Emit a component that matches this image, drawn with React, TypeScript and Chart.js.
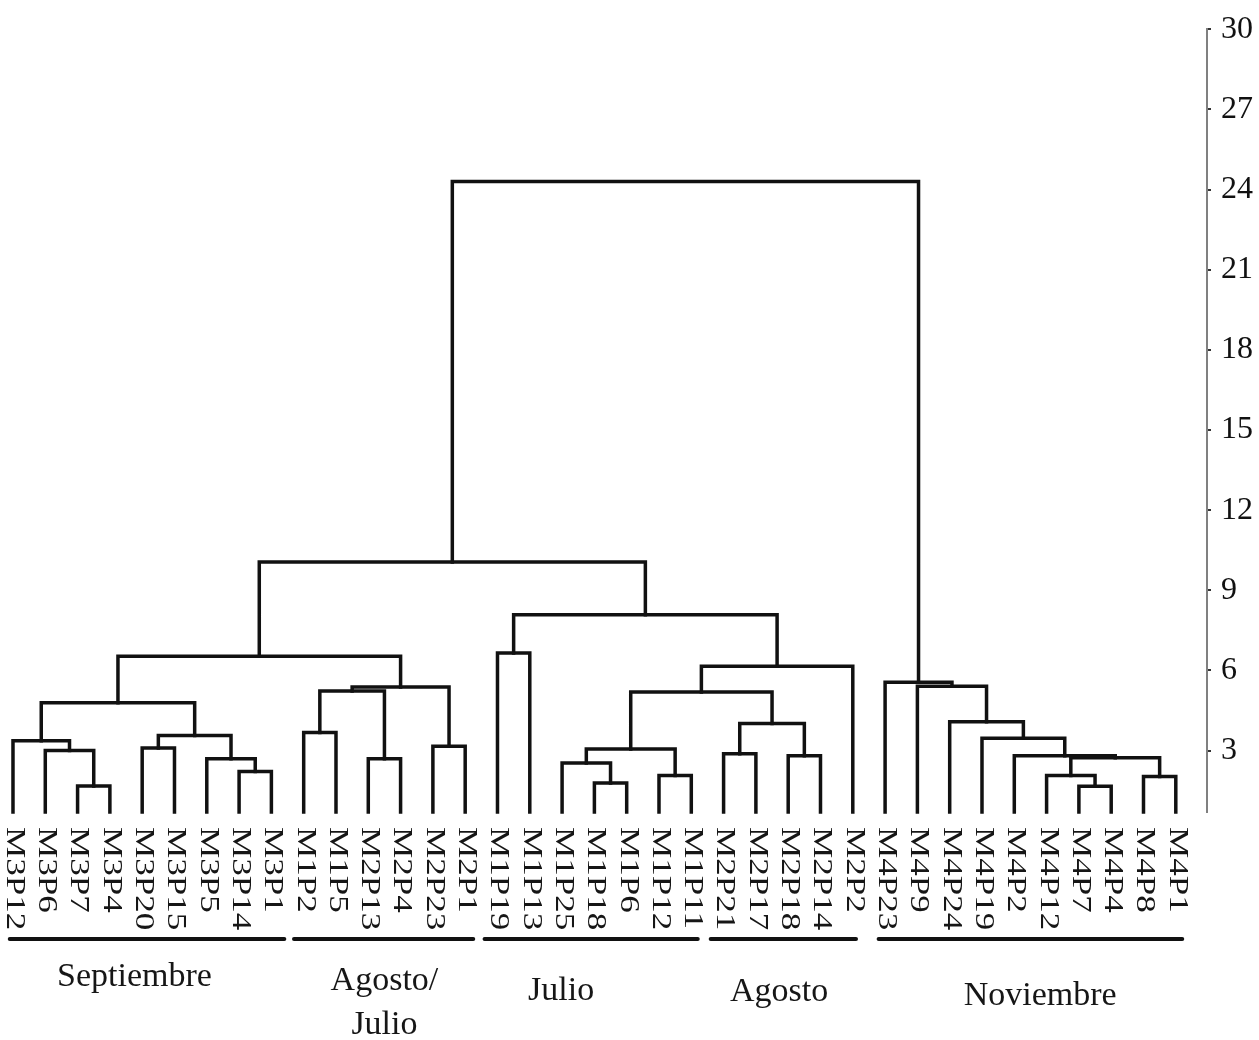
import React, { useEffect, useRef } from "react";
import { Chart, registerables } from "chart.js";

Chart.register(...registerables);

// ---- DATA ----
const leafLabels = [
  "M3P12", "M3P6", "M3P7", "M3P4", "M3P20", "M3P15", "M3P5", "M3P14", "M3P1",
  "M1P2", "M1P5", "M2P13", "M2P4", "M2P23", "M2P1",
  "M1P19", "M1P13", "M1P25", "M1P18", "M1P6", "M1P12", "M1P11",
  "M2P21", "M2P17", "M2P18", "M2P14", "M2P2",
  "M4P23", "M4P9", "M4P24", "M4P19", "M4P2", "M4P12", "M4P7", "M4P4", "M4P8", "M4P1",
];

// Linkage: node id = leafLabels.length + index of merge
const mergeLeft = [2, 1, 0, 4, 7, 6, 40, 39, 9, 11, 45, 13, 47, 44, 15, 18, 17, 20, 53, 22, 24, 56, 55, 59, 51, 50, 33, 32, 35, 64, 31, 30, 29, 28, 27, 62];
const mergeRight = [3, 37, 38, 5, 8, 41, 42, 43, 10, 12, 46, 14, 48, 49, 16, 19, 52, 21, 54, 23, 25, 57, 58, 26, 60, 61, 34, 63, 36, 65, 66, 67, 68, 69, 70, 71];
const mergeHeight = [1.67, 3.0, 3.37, 3.1, 2.22, 2.69, 3.56, 4.79, 3.68, 2.69, 5.23, 3.16, 5.38, 6.53, 6.65, 1.79, 2.53, 2.07, 3.06, 2.88, 2.81, 4.01, 5.19, 6.16, 8.08, 10.06, 1.66, 2.07, 2.03, 2.73, 2.81, 3.46, 4.08, 5.41, 5.56, 24.3];
const leafBase = 0.7;

const yTicks = [3, 6, 9, 12, 15, 18, 21, 24, 27, 30];

const groupNames = [["Septiembre"], ["Agosto/", "Julio"], ["Julio"], ["Agosto"], ["Noviembre"]];
const groupFirstLeaf = [0, 9, 15, 22, 27];
const groupLastLeaf = [8, 14, 21, 26, 36];

// ---- LAYOUT (positions in leaf units / pixel offsets) ----
const groupLineSpan = [[-0.1, 8.4], [8.7, 14.25], [14.6, 21.2], [21.6, 26.1], [26.8, 36.2]];
const groupLabelCenter = [3.76, 11.5, 16.97, 23.72, 31.8];
const groupLabelBaseline = [174, 178, 188, 189, 193];

function buildSegments() {
  const n = leafLabels.length;
  const xs: number[] = leafLabels.map((_, i) => i);
  const hs: number[] = leafLabels.map(() => leafBase);
  const segs: { x: number; y: number }[][] = [];
  for (let k = 0; k < mergeHeight.length; k++) {
    const l = mergeLeft[k];
    const r = mergeRight[k];
    const h = mergeHeight[k];
    segs.push([
      { x: xs[l], y: hs[l] },
      { x: xs[l], y: h },
      { x: xs[r], y: h },
      { x: xs[r], y: hs[r] },
    ]);
    xs[n + k] = (xs[l] + xs[r]) / 2;
    hs[n + k] = h;
  }
  return segs;
}

const serif = '"Liberation Serif", "Times New Roman", "DejaVu Serif", serif';

const labelPlugin = {
  id: "dendroLabels",
  afterDraw(chart: any) {
    const { ctx, chartArea, scales } = chart;
    const xs = scales.x;
    ctx.save();
    ctx.fillStyle = "#161616";
    ctx.font = `27px ${serif}`;
    ctx.textAlign = "left";
    ctx.textBaseline = "middle";
    leafLabels.forEach((lab, i) => {
      const x = xs.getPixelForValue(i);
      ctx.save();
      ctx.translate(x + 1, chartArea.bottom + 15);
      ctx.rotate(Math.PI / 2);
      ctx.scale(1.3, 1);
      ctx.fillText(lab, 0, 0);
      ctx.restore();
    });

    ctx.strokeStyle = "#111";
    ctx.lineWidth = 4;
    ctx.lineCap = "round";
    groupLineSpan.forEach(([a, b]) => {
      const y = chartArea.bottom + 127;
      ctx.beginPath();
      ctx.moveTo(xs.getPixelForValue(a), y);
      ctx.lineTo(xs.getPixelForValue(b), y);
      ctx.stroke();
    });

    ctx.font = `34px ${serif}`;
    ctx.textAlign = "center";
    ctx.textBaseline = "alphabetic";
    groupNames.forEach((lines, g) => {
      const cx = xs.getPixelForValue(groupLabelCenter[g]);
      lines.forEach((t, li) => {
        ctx.fillText(t, cx, chartArea.bottom + groupLabelBaseline[g] + li * 44);
      });
    });
    ctx.restore();
  },
};

export default function App() {
  const ref = useRef<HTMLCanvasElement | null>(null);
  useEffect(() => {
    if (!ref.current) return;
    const segs = buildSegments();
    const chart = new Chart(ref.current, {
      type: "scatter",
      data: {
        datasets: segs.map((s) => ({
          data: s,
          showLine: true,
          borderColor: "#111",
          borderWidth: 3.5,
          pointRadius: 0,
          tension: 0,
          borderJoinStyle: "miter" as const,
          borderCapStyle: "square" as const,
          clip: false as any,
        })),
      },
      options: {
        responsive: false,
        animation: false,
        devicePixelRatio: 1,
        layout: { padding: { top: 23, bottom: 228, left: 0, right: 0 } },
        plugins: { legend: { display: false }, tooltip: { enabled: false } },
        scales: {
          x: {
            type: "linear",
            display: false,
            min: -0.402,
            max: 36.966,
          },
          y: {
            type: "linear",
            position: "right",
            min: leafBase,
            max: 30,
            afterBuildTicks: (s: any) => {
              s.ticks = yTicks.map((v) => ({ value: v }));
            },
            afterFit: (s: any) => {
              s.width = 52;
            },
            border: { display: true, color: "#808080", width: 2 },
            grid: { drawOnChartArea: false, drawTicks: true, tickLength: 4, color: "#333", lineWidth: 2 },
            ticks: {
              color: "#111",
              padding: 10,
              font: { family: "Liberation Serif", size: 32 },
            },
          },
        },
      },
      plugins: [labelPlugin],
    });
    return () => chart.destroy();
  }, []);
  return (
    <div style={{ position: "absolute", left: 0, top: 0, width: 1259, height: 1040, background: "#fff" }}>
      <canvas ref={ref} width={1259} height={1040} />
    </div>
  );
}
